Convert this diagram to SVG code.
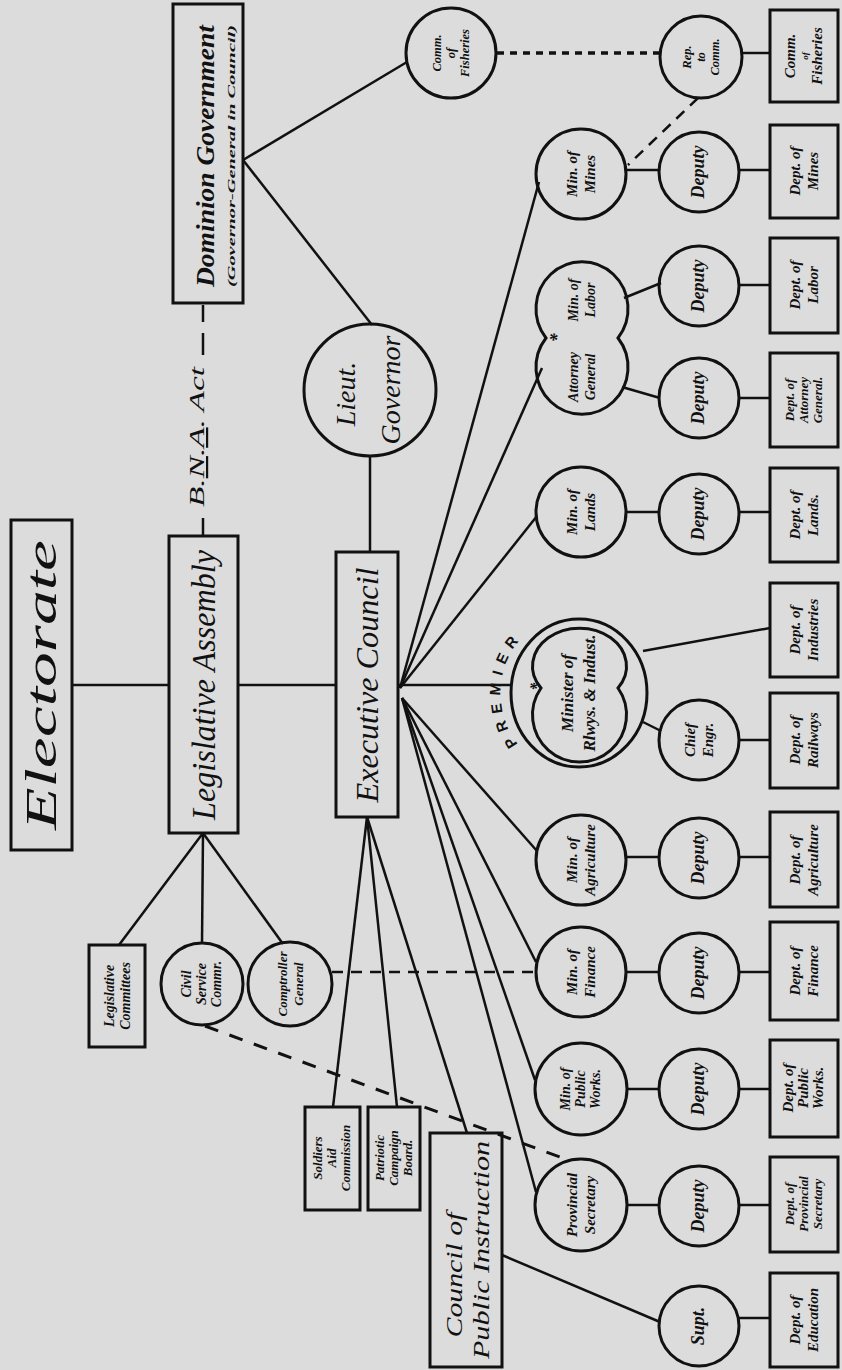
<svg xmlns="http://www.w3.org/2000/svg" width="842" height="1370" viewBox="0 0 842 1370">
<style>
.box{fill:none;stroke:#111;stroke-width:3}
.ln{fill:none;stroke:#111;stroke-width:2.5}
.dot{fill:none;stroke:#111;stroke-width:3.5;stroke-dasharray:7 6}
.dash{fill:none;stroke:#111;stroke-width:2.5;stroke-dasharray:11 8}
.dash2{fill:none;stroke:#111;stroke-width:3;stroke-dasharray:14 12}
.t{font-family:"Liberation Serif",serif;font-style:italic;font-weight:bold;fill:#111;text-anchor:middle}
.big{font-family:"Liberation Serif",serif;font-style:italic;fill:#111;text-anchor:middle}
.s14{font-size:15px}
.s12{font-size:12.5px}
.dep{font-size:18px}
</style>
<rect x="0" y="0" width="842" height="1370" fill="#dcdcdc"/>

<g id="connectors">
<line class="ln" x1="72" y1="685" x2="169" y2="685"/>
<line class="ln" x1="238" y1="685" x2="336" y2="685"/>
<line class="ln" x1="398" y1="685" x2="511" y2="685"/>
<line class="ln" x1="370" y1="456" x2="370" y2="552"/>
<line class="ln" x1="243" y1="160" x2="407" y2="62"/>
<line class="ln" x1="243" y1="160" x2="372" y2="325"/>
<line class="ln" x1="203" y1="305" x2="203" y2="322"/>
<line class="ln" x1="203" y1="333" x2="203" y2="355"/>
<line class="ln" x1="203" y1="518" x2="203" y2="536"/>
<line class="dot" x1="497" y1="53" x2="660" y2="53"/>
<line class="ln" x1="742" y1="53" x2="770" y2="53"/>
<line class="dash" x1="698" y1="98" x2="628" y2="165"/>
<line class="ln" x1="626" y1="170" x2="659" y2="170"/>
<line class="ln" x1="739" y1="170" x2="770" y2="170"/>
<line class="ln" x1="400" y1="688" x2="539" y2="182"/>
<line class="ln" x1="400" y1="688" x2="542" y2="368"/>
<line class="ln" x1="624" y1="298" x2="661" y2="283"/>
<line class="ln" x1="739" y1="285" x2="770" y2="285"/>
<line class="ln" x1="622" y1="387" x2="660" y2="398"/>
<line class="ln" x1="739" y1="398" x2="770" y2="398"/>
<line class="ln" x1="400" y1="688" x2="537" y2="516"/>
<line class="ln" x1="626" y1="512" x2="659" y2="512"/>
<line class="ln" x1="739" y1="512" x2="770" y2="512"/>
<line class="ln" x1="643" y1="651" x2="770" y2="628"/>
<line class="ln" x1="643" y1="722" x2="661" y2="731"/>
<line class="ln" x1="739" y1="740" x2="770" y2="740"/>
<line class="ln" x1="402" y1="698" x2="537" y2="851"/>
<line class="ln" x1="626" y1="857" x2="659" y2="857"/>
<line class="ln" x1="739" y1="857" x2="770" y2="857"/>
<line class="ln" x1="402" y1="698" x2="536" y2="962"/>
<line class="ln" x1="626" y1="972" x2="659" y2="972"/>
<line class="ln" x1="739" y1="972" x2="770" y2="972"/>
<line class="ln" x1="402" y1="698" x2="535" y2="1080"/>
<line class="ln" x1="626" y1="1089" x2="659" y2="1089"/>
<line class="ln" x1="739" y1="1089" x2="770" y2="1089"/>
<line class="ln" x1="402" y1="698" x2="536" y2="1192"/>
<line class="ln" x1="626" y1="1205" x2="659" y2="1205"/>
<line class="ln" x1="739" y1="1205" x2="770" y2="1205"/>
<line class="ln" x1="367" y1="817" x2="333" y2="1107"/>
<line class="ln" x1="367" y1="817" x2="397" y2="1107"/>
<line class="ln" x1="367" y1="817" x2="467" y2="1133"/>
<line class="ln" x1="502" y1="1255" x2="660" y2="1322"/>
<line class="ln" x1="739" y1="1318" x2="770" y2="1318"/>
<line class="ln" x1="203" y1="833" x2="119" y2="945"/>
<line class="ln" x1="203" y1="833" x2="202" y2="943"/>
<line class="ln" x1="203" y1="833" x2="283" y2="944"/>
<line class="dash" x1="332" y1="972" x2="535" y2="972"/>
<line class="dash2" x1="205" y1="1026" x2="568" y2="1160"/>
</g>

<g id="electorate"><rect class="box" x="11" y="520" width="61" height="330"/>
<text class="big" font-size="44" transform="translate(41,685) rotate(-90)" y="15" textLength="290" lengthAdjust="spacingAndGlyphs">Electorate</text></g>

<g id="legislative-assembly"><rect class="box" x="169" y="536" width="69" height="297"/>
<text class="big" font-size="34" transform="translate(203,685) rotate(-90)" y="12" textLength="270" lengthAdjust="spacingAndGlyphs">Legislative Assembly</text></g>

<g id="executive-council"><rect class="box" x="336" y="552" width="62" height="265"/>
<text class="big" font-size="32" transform="translate(367,685) rotate(-90)" y="11" textLength="235" lengthAdjust="spacingAndGlyphs">Executive Council</text></g>

<g id="dominion-government"><rect class="box" x="173" y="4" width="70" height="299"/>
<text class="t" font-size="26" transform="translate(205,156) rotate(-90)" y="9" textLength="262" lengthAdjust="spacingAndGlyphs">Dominion Government</text>
<text class="t" font-size="11" transform="translate(231,156) rotate(-90)" y="4" textLength="262" lengthAdjust="spacingAndGlyphs">(Governor-General in Council)</text></g>

<g id="bna-act"><text class="big" font-size="22" transform="translate(196,437) rotate(-90)" y="8" textLength="140" lengthAdjust="spacingAndGlyphs">B.<tspan text-decoration="underline">N</tspan>.<tspan text-decoration="underline">A</tspan>. Act</text></g>

<g id="lieut-governor"><circle class="box" cx="370" cy="390" r="66"/>
<text class="big" font-size="28" transform="translate(370,390) rotate(-90)"><tspan x="-4" y="-15">Lieut.</tspan><tspan x="0" y="30">Governor</tspan></text></g>

<g id="comm-fisheries-circle"><circle class="box" cx="451" cy="53" r="45"/>
<text class="t s12" transform="translate(451,53) rotate(-90)"><tspan x="0" y="-10">Comm.</tspan><tspan x="0" y="4">of</tspan><tspan x="0" y="18">Fisheries</tspan></text></g>

<g id="rep-comm"><circle class="box" cx="701" cy="57" r="41"/>
<text class="t s12" transform="translate(701,57) rotate(-90)"><tspan x="0" y="-10">Rep.</tspan><tspan x="0" y="4">to</tspan><tspan x="0" y="18">Comm.</tspan></text></g>

<g id="comm-fisheries-box"><rect class="box" x="770" y="10" width="68" height="92"/>
<text class="t s14" transform="translate(804,56) rotate(-90)"><tspan x="0" y="-9">Comm.</tspan><tspan x="0" y="4" font-size="9">of</tspan><tspan x="0" y="18">Fisheries</tspan></text></g>

<g id="min-mines"><circle class="box" cx="581" cy="174" r="45"/>
<text class="t s14" transform="translate(581,174) rotate(-90)"><tspan x="0" y="-4">Min. of</tspan><tspan x="0" y="14">Mines</tspan></text></g>
<g id="deputy-mines"><circle class="box" cx="699" cy="172" r="40"/>
<text class="t dep" transform="translate(699,172) rotate(-90)" y="5">Deputy</text></g>
<g id="dept-mines"><rect class="box" x="770" y="125" width="68" height="93"/>
<text class="t s14" transform="translate(804,171) rotate(-90)"><tspan x="0" y="-4">Dept. of</tspan><tspan x="0" y="14">Mines</tspan></text></g>

<g id="attorney-general-labor"><path class="box" d="M546,338 A46 47 0 1 1 618,338 A46 47 0 1 1 546,338 Z"/>
<text class="t" font-size="18" x="553" y="346">*</text>
<text class="t" font-size="14" transform="translate(582,377) rotate(-90)"><tspan x="0" y="-4">Attorney</tspan><tspan x="0" y="13">General</tspan></text>
<text class="t" font-size="14" transform="translate(582,300) rotate(-90)"><tspan x="0" y="-4">Min. of</tspan><tspan x="0" y="13">Labor</tspan></text></g>
<g id="deputy-labor"><circle class="box" cx="699" cy="286" r="40"/>
<text class="t dep" transform="translate(699,286) rotate(-90)" y="5">Deputy</text></g>
<g id="dept-labor"><rect class="box" x="770" y="238" width="68" height="95"/>
<text class="t s14" transform="translate(804,285) rotate(-90)"><tspan x="0" y="-4">Dept. of</tspan><tspan x="0" y="14">Labor</tspan></text></g>
<g id="deputy-ag"><circle class="box" cx="699" cy="398" r="40"/>
<text class="t dep" transform="translate(699,398) rotate(-90)" y="5">Deputy</text></g>
<g id="dept-ag"><rect class="box" x="770" y="353" width="68" height="94"/>
<text class="t" font-size="13" transform="translate(804,400) rotate(-90)"><tspan x="0" y="-10">Dept. of</tspan><tspan x="0" y="4">Attorney</tspan><tspan x="0" y="18">General.</tspan></text></g>

<g id="min-lands"><circle class="box" cx="581" cy="512" r="45"/>
<text class="t s14" transform="translate(581,512) rotate(-90)"><tspan x="0" y="-4">Min. of</tspan><tspan x="0" y="14">Lands</tspan></text></g>
<g id="deputy-lands"><circle class="box" cx="699" cy="514" r="40"/>
<text class="t dep" transform="translate(699,514) rotate(-90)" y="5">Deputy</text></g>
<g id="dept-lands"><rect class="box" x="770" y="468" width="68" height="94"/>
<text class="t s14" transform="translate(804,515) rotate(-90)"><tspan x="0" y="-4">Dept. of</tspan><tspan x="0" y="14">Lands.</tspan></text></g>

<g id="premier">
<ellipse class="box" cx="579" cy="693" rx="68" ry="74"/>
<path class="box" d="M541,688 A47 38 0 1 1 618,688 A47 47 0 1 1 541,688 Z" stroke-width="2.5"/>
<path id="premierArc" d="M527,753 A71 77 0 0 1 527,633" fill="none"/>
<text font-family="'Liberation Sans',sans-serif" font-weight="bold" font-size="15" fill="#111" text-anchor="middle" letter-spacing="7"><textPath href="#premierArc" startOffset="53%">PREMIER</textPath></text>
<text class="t" font-size="17" x="533" y="694">*</text>
<text class="t" font-size="17" transform="translate(580,693) rotate(-90)"><tspan x="0" y="-7">Minister of</tspan><tspan x="0" y="15">Rlwys. &amp; Indust.</tspan></text>
</g>
<g id="chief-engr"><circle class="box" cx="699" cy="740" r="40"/>
<text class="t s14" transform="translate(699,740) rotate(-90)"><tspan x="0" y="-4">Chief</tspan><tspan x="0" y="14">Engr.</tspan></text></g>
<g id="dept-railways"><rect class="box" x="770" y="693" width="68" height="95"/>
<text class="t s14" transform="translate(804,740) rotate(-90)"><tspan x="0" y="-4">Dept. of</tspan><tspan x="0" y="14">Railways</tspan></text></g>
<g id="dept-industries"><rect class="box" x="770" y="583" width="68" height="94"/>
<text class="t s14" transform="translate(804,630) rotate(-90)"><tspan x="0" y="-4">Dept. of</tspan><tspan x="0" y="14">Industries</tspan></text></g>

<g id="min-agriculture"><circle class="box" cx="581" cy="860" r="45"/>
<text class="t s14" transform="translate(581,860) rotate(-90)"><tspan x="0" y="-4">Min. of</tspan><tspan x="0" y="14">Agriculture</tspan></text></g>
<g id="deputy-agriculture"><circle class="box" cx="699" cy="858" r="40"/>
<text class="t dep" transform="translate(699,858) rotate(-90)" y="5">Deputy</text></g>
<g id="dept-agriculture"><rect class="box" x="770" y="812" width="68" height="95"/>
<text class="t s14" transform="translate(804,860) rotate(-90)"><tspan x="0" y="-4">Dept. of</tspan><tspan x="0" y="14">Agriculture</tspan></text></g>

<g id="min-finance"><circle class="box" cx="581" cy="972" r="45"/>
<text class="t s14" transform="translate(581,972) rotate(-90)"><tspan x="0" y="-4">Min. of</tspan><tspan x="0" y="14">Finance</tspan></text></g>
<g id="deputy-finance"><circle class="box" cx="699" cy="973" r="40"/>
<text class="t dep" transform="translate(699,973) rotate(-90)" y="5">Deputy</text></g>
<g id="dept-finance"><rect class="box" x="770" y="922" width="68" height="98"/>
<text class="t s14" transform="translate(804,971) rotate(-90)"><tspan x="0" y="-4">Dept. of</tspan><tspan x="0" y="14">Finance</tspan></text></g>

<g id="min-public-works"><circle class="box" cx="581" cy="1089" r="46"/>
<text class="t" font-size="14" transform="translate(581,1089) rotate(-90)"><tspan x="0" y="-11">Min. of</tspan><tspan x="0" y="4">Public</tspan><tspan x="0" y="19">Works.</tspan></text></g>
<g id="deputy-public-works"><circle class="box" cx="699" cy="1089" r="40"/>
<text class="t dep" transform="translate(699,1089) rotate(-90)" y="5">Deputy</text></g>
<g id="dept-public-works"><rect class="box" x="770" y="1040" width="68" height="97"/>
<text class="t s14" transform="translate(804,1088) rotate(-90)"><tspan x="0" y="-11">Dept. of</tspan><tspan x="0" y="4">Public</tspan><tspan x="0" y="19">Works.</tspan></text></g>

<g id="provincial-secretary"><circle class="box" cx="581" cy="1205" r="46"/>
<text class="t s14" transform="translate(581,1205) rotate(-90)"><tspan x="0" y="-4">Provincial</tspan><tspan x="0" y="14">Secretary</tspan></text></g>
<g id="deputy-prov-sec"><circle class="box" cx="699" cy="1206" r="40"/>
<text class="t dep" transform="translate(699,1206) rotate(-90)" y="5">Deputy</text></g>
<g id="dept-prov-sec"><rect class="box" x="770" y="1157" width="68" height="95"/>
<text class="t" font-size="13" transform="translate(804,1204) rotate(-90)"><tspan x="0" y="-10">Dept. of</tspan><tspan x="0" y="4">Provincial</tspan><tspan x="0" y="18">Secretary</tspan></text></g>

<g id="supt"><circle class="box" cx="699" cy="1326" r="40"/>
<text class="t dep" transform="translate(699,1326) rotate(-90)" y="5">Supt.</text></g>
<g id="dept-education"><rect class="box" x="770" y="1273" width="68" height="94"/>
<text class="t s14" transform="translate(804,1320) rotate(-90)"><tspan x="0" y="-4">Dept. of</tspan><tspan x="0" y="14">Education</tspan></text></g>

<g id="council-public-instruction"><rect class="box" x="430" y="1133" width="72" height="234"/>
<text class="big" font-size="24" transform="translate(466,1250) rotate(-90)"><tspan x="-25" y="-4" textLength="125" lengthAdjust="spacingAndGlyphs">Council of</tspan><tspan x="0" y="23" textLength="218" lengthAdjust="spacingAndGlyphs">Public Instruction</tspan></text></g>

<g id="soldiers-aid"><rect class="box" x="305" y="1107" width="55" height="103"/>
<text class="t" font-size="13" transform="translate(332,1158) rotate(-90)"><tspan x="0" y="-10">Soldiers</tspan><tspan x="0" y="4">Aid</tspan><tspan x="0" y="18">Commission</tspan></text></g>

<g id="patriotic-campaign"><rect class="box" x="368" y="1107" width="52" height="103"/>
<text class="t" font-size="13" transform="translate(394,1158) rotate(-90)"><tspan x="0" y="-10">Patriotic</tspan><tspan x="0" y="4">Campaign</tspan><tspan x="0" y="18">Board.</tspan></text></g>

<g id="legislative-committees"><rect class="box" x="89" y="945" width="56" height="102"/>
<text class="t" font-size="14" transform="translate(117,996) rotate(-90)"><tspan x="0" y="-3">Legislative</tspan><tspan x="0" y="13">Committees</tspan></text></g>

<g id="civil-service"><circle class="box" cx="202" cy="984" r="41"/>
<text class="t" font-size="14" transform="translate(202,984) rotate(-90)"><tspan x="0" y="-11">Civil</tspan><tspan x="0" y="4">Service</tspan><tspan x="0" y="19">Commr.</tspan></text></g>

<g id="comptroller-general"><circle class="box" cx="290" cy="984" r="42"/>
<text class="t" font-size="13" transform="translate(290,984) rotate(-90)"><tspan x="0" y="-3">Comptroller</tspan><tspan x="0" y="13">General</tspan></text></g>
</svg>
